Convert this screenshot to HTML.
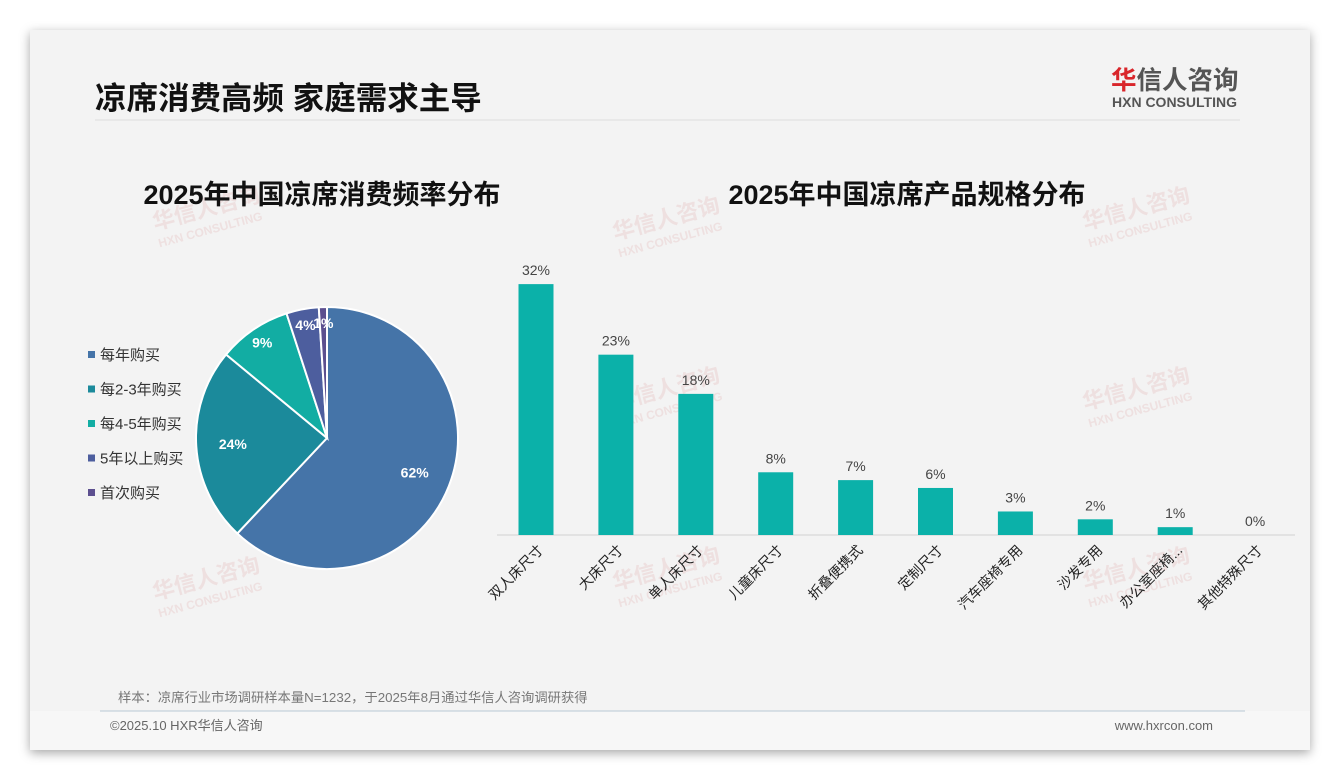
<!DOCTYPE html>
<html><head><meta charset="utf-8"><style>
body{margin:0;width:1340px;height:780px;background:#fff;font-family:"Liberation Sans","Noto Sans CJK SC",sans-serif;overflow:hidden}
#card{position:absolute;left:30px;top:30px;width:1280px;height:720px;background:#f3f3f3;box-shadow:0 3px 10px rgba(0,0,0,0.35)}
svg{position:absolute;left:0;top:0}
</style></head><body>
<div id="card"></div>
<svg id="s" width="1340" height="780" xmlns="http://www.w3.org/2000/svg" font-family="Liberation Sans, Noto Sans CJK SC, sans-serif">
<rect x="30" y="711" width="1280" height="39" fill="#f7f7f7"/>
<text x="95" y="109" font-size="31.5" font-weight="bold" fill="#111">凉席消费高频 家庭需求主导</text>
<line x1="95" y1="120" x2="1240" y2="120" stroke="#dcdcdc"/>
<g>
<text x="1111" y="89" font-size="25.5" fill="#555" font-weight="bold"><tspan fill="#d9262b">华</tspan>信人咨询</text>
<text x="1112" y="107" font-size="14" font-weight="bold" fill="#555">HXN CONSULTING</text>
</g>
<g fill="#e9c9c9" opacity="0.45" font-weight="bold">
<g transform="translate(615,240) rotate(-15)"><text font-size="22">华信人咨询</text><text y="18" font-size="12">HXN CONSULTING</text></g>
<g transform="translate(1085,230) rotate(-15)"><text font-size="22">华信人咨询</text><text y="18" font-size="12">HXN CONSULTING</text></g>
<g transform="translate(155,230) rotate(-15)"><text font-size="22">华信人咨询</text><text y="18" font-size="12">HXN CONSULTING</text></g>
<g transform="translate(615,410) rotate(-15)"><text font-size="22">华信人咨询</text><text y="18" font-size="12">HXN CONSULTING</text></g>
<g transform="translate(1085,410) rotate(-15)"><text font-size="22">华信人咨询</text><text y="18" font-size="12">HXN CONSULTING</text></g>
<g transform="translate(155,600) rotate(-15)"><text font-size="22">华信人咨询</text><text y="18" font-size="12">HXN CONSULTING</text></g>
<g transform="translate(615,590) rotate(-15)"><text font-size="22">华信人咨询</text><text y="18" font-size="12">HXN CONSULTING</text></g>
<g transform="translate(1085,590) rotate(-15)"><text font-size="22">华信人咨询</text><text y="18" font-size="12">HXN CONSULTING</text></g>
</g>
<text x="322" y="204" font-size="27" font-weight="bold" fill="#111" text-anchor="middle">2025年中国凉席消费频率分布</text>
<text x="907" y="204" font-size="27" font-weight="bold" fill="#111" text-anchor="middle">2025年中国凉席产品规格分布</text>
<g id="pie"></g><g id="legend"></g><g id="bars"></g>
<text x="118" y="702" font-size="13.3" fill="#777">样本：凉席行业市场调研样本量N=1232，于2025年8月通过华信人咨询调研获得</text>
<line x1="100" y1="711" x2="1245" y2="711" stroke="#b9c8d6"/>
<text x="110" y="730" font-size="13" fill="#666">©2025.10 HXR华信人咨询</text>
<text x="1213" y="730" font-size="13" fill="#666" text-anchor="end">www.hxrcon.com</text>
</svg>
<script>
const pieLabels=["每年购买","每2-3年购买","每4-5年购买","5年以上购买","首次购买"];
const pieValues=[62,24,9,4,1];
const pieColors=["#4574a8","#1b8a9b","#12ada3","#4d5e9e","#5c4f8f"];
const barCats=["双人床尺寸","大床尺寸","单人床尺寸","儿童床尺寸","折叠便携式","定制尺寸","汽车座椅专用","沙发专用","办公室座椅...","其他特殊尺寸"];
const barValues=[32,23,18,8,7,6,3,2,1,0];
const NS="http://www.w3.org/2000/svg";
function mk(t,a,p){const e=document.createElementNS(NS,t);for(const k in a)e.setAttribute(k,a[k]);p.appendChild(e);return e;}
const cx=327,cy=438,R=131;const pie=document.getElementById('pie');
const tot=pieValues.reduce((a,b)=>a+b,0);let ang=0;
pieValues.forEach((v,i)=>{const a0=ang,a1=ang+v/tot*2*Math.PI;ang=a1;
const x0=cx+R*Math.sin(a0),y0=cy-R*Math.cos(a0),x1=cx+R*Math.sin(a1),y1=cy-R*Math.cos(a1);
const p=mk('path',{d:`M${cx},${cy}L${x0},${y0}A${R},${R} 0 ${a1-a0>Math.PI?1:0} 1 ${x1},${y1}Z`,fill:pieColors[i],stroke:'#fff','stroke-width':2},pie);


const m=(a0+a1)/2,r=v<10?R*0.88:R*0.72;
const t=mk('text',{x:cx+r*Math.sin(m),y:cy-r*Math.cos(m)+5,'font-size':14,'font-weight':'bold',fill:'#fff','text-anchor':'middle'},pie);
t.textContent=v+'%';

});
const lg=document.getElementById('legend');
pieLabels.forEach((l,i)=>{const y=355+i*34.5;const g=mk('g',{},lg);


mk('rect',{x:88,y:y-4,width:7,height:7,fill:pieColors[i]},g);
const t=mk('text',{x:100,y:y+5,'font-size':15,fill:'#333'},g);t.textContent=l;});
const bg=document.getElementById('bars');const base=535,pxPer=7.84,x0=536,step=79.9,bw=35;
const ax=mk('line',{x1:497,y1:base,x2:1295,y2:base,stroke:'#d0d0d0'},bg);


barValues.forEach((v,i)=>{const x=x0+i*step,h=v*pxPer;
const r=mk('rect',{x:x-bw/2,y:base-h,width:bw,height:h,fill:'#0bb1a9'},bg);


const t=mk('text',{x:x,y:base-h-9,'font-size':14,fill:'#444','text-anchor':'middle'},bg);t.textContent=v+'%';


const c=mk('text',{x:x+8,y:base+16,'font-size':14,fill:'#222','text-anchor':'end',transform:`rotate(-45 ${x+8} ${base+16})`},bg);c.textContent=barCats[i];

});
</script>
</body></html>
